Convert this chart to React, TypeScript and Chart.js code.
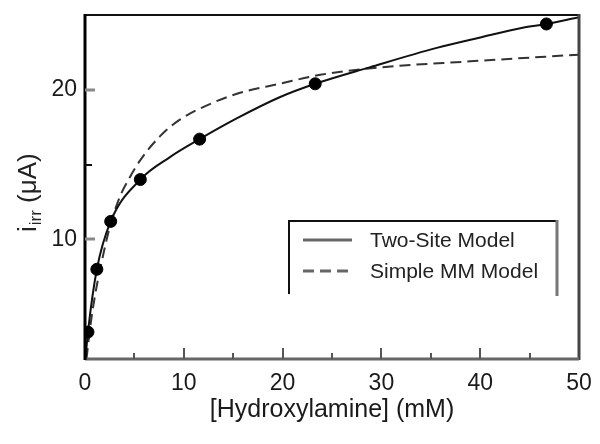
import React, { useEffect, useRef } from "react";
import { Chart, registerables } from "chart.js";

Chart.register(...registerables);

// Measured data points
const obsX = [0.3, 1.2, 2.6, 5.6, 11.6, 23.3, 46.7];
const obsY = [3.8, 8.0, 11.2, 14.0, 16.7, 20.4, 24.4];

// Two-Site Model curve (solid)
const twoSiteX = [0.05, 0.3, 1.2, 2.6, 5.6, 8.6, 11.6, 15.4, 19.7, 23.3, 28.8, 35.6, 40, 44.3, 46.7, 50];
const twoSiteY = [2.0, 3.8, 8.0, 11.2, 14.0, 15.5, 16.7, 18.1, 19.5, 20.4, 21.5, 22.8, 23.5, 24.15, 24.4, 24.85];

// Simple MM Model curve (dashed)
const mmX = [0.15, 0.5, 1.0, 1.5, 2.5, 3.5, 4.5, 5.6, 7.6, 9.6, 13.0, 15.7, 19.7, 23.8, 29.9, 39, 50];
const mmY = [2.0, 4.0, 6.2, 7.9, 10.8, 12.8, 14.1, 15.3, 16.9, 18.0, 19.15, 19.8, 20.4, 21.0, 21.5, 21.9, 22.35];

const legendLabels = ["Two-Site Model", "Simple MM Model"];

const xMajorTicks = [0, 10, 20, 30, 40, 50];
const xMinorTicks = [5, 15, 25, 35, 45];
const yMajorTicks = [10, 20];
const yMinorTicks = [15];

const xTitle = "[Hydroxylamine] (mM)";
const yTitleMain = "i";
const yTitleSub = "irr";
const yTitleUnit = " (μA)";

const toPts = (xs: number[], ys: number[]) => xs.map((x, i) => ({ x, y: ys[i] }));

const zeroPad = (s: any) => {
  s.paddingLeft = 0;
  s.paddingRight = 0;
  s.paddingTop = 0;
  s.paddingBottom = 0;
};

const decorPlugin = {
  id: "decor",
  afterDraw(chart: any) {
    const { ctx, chartArea } = chart;
    const xs = chart.scales.x;
    const ys = chart.scales.y;
    const L = chartArea.left, R = chartArea.right, T = chartArea.top, B = chartArea.bottom;
    ctx.save();
    // frame
    ctx.lineCap = "butt";
    ctx.strokeStyle = "#111";
    ctx.lineWidth = 2;
    ctx.beginPath(); ctx.moveTo(L - 1, T); ctx.lineTo(R + 1, T); ctx.stroke();
    ctx.strokeStyle = "#444";
    ctx.lineWidth = 3;
    ctx.beginPath(); ctx.moveTo(R, T - 1); ctx.lineTo(R, B + 1); ctx.stroke();
    ctx.strokeStyle = "#666";
    ctx.beginPath(); ctx.moveTo(L, B); ctx.lineTo(R, B); ctx.stroke();
    ctx.strokeStyle = "#000";
    ctx.beginPath(); ctx.moveTo(L, T - 1); ctx.lineTo(L, B + 1); ctx.stroke();

    // inward ticks
    ctx.strokeStyle = "#555";
    ctx.lineWidth = 2;
    xMajorTicks.forEach((v) => {
      if (v === xs.min || v === xs.max) return;
      const px = Math.round(xs.getPixelForValue(v));
      ctx.beginPath(); ctx.moveTo(px, B); ctx.lineTo(px, B - 11); ctx.stroke();
    });
    xMinorTicks.forEach((v) => {
      const px = Math.round(xs.getPixelForValue(v));
      ctx.beginPath(); ctx.moveTo(px, B); ctx.lineTo(px, B - 6); ctx.stroke();
    });
    ctx.strokeStyle = "#888";
    ctx.lineWidth = 3;
    yMajorTicks.forEach((v) => {
      const py = Math.round(ys.getPixelForValue(v));
      ctx.beginPath(); ctx.moveTo(L, py); ctx.lineTo(L + 10, py); ctx.stroke();
    });
    ctx.strokeStyle = "#111";
    ctx.lineWidth = 2;
    yMinorTicks.forEach((v) => {
      const py = Math.round(ys.getPixelForValue(v));
      ctx.beginPath(); ctx.moveTo(L, py); ctx.lineTo(L + 7, py); ctx.stroke();
    });

    // legend (box open at bottom)
    ctx.strokeStyle = "#111";
    ctx.lineWidth = 2;
    ctx.beginPath(); ctx.moveTo(289, 294); ctx.lineTo(289, 221); ctx.lineTo(557, 221); ctx.stroke();
    ctx.strokeStyle = "#777";
    ctx.lineWidth = 3;
    ctx.beginPath(); ctx.moveTo(557, 220); ctx.lineTo(557, 296); ctx.stroke();
    const ds = chart.data.datasets;
    const rows = [240, 271];
    legendLabels.forEach((lab, i) => {
      const y = rows[i];
      ctx.strokeStyle = "#666";
      ctx.lineWidth = 3;
      ctx.setLineDash(ds[i].borderDash || []);
      ctx.beginPath(); ctx.moveTo(303, y); ctx.lineTo(352, y); ctx.stroke();
      ctx.setLineDash([]);
      ctx.fillStyle = "#222";
      ctx.font = "21px 'Liberation Sans', Arial, sans-serif";
      ctx.textBaseline = "middle";
      ctx.textAlign = "left";
      ctx.fillText(lab, 370, y + 1);
    });

    // y-axis title with subscript
    ctx.translate(36, 232);
    ctx.rotate(-Math.PI / 2);
    ctx.fillStyle = "#222";
    ctx.textBaseline = "alphabetic";
    ctx.textAlign = "left";
    ctx.font = "26px 'Liberation Sans', Arial, sans-serif";
    ctx.fillText(yTitleMain, 0, 0);
    let w = ctx.measureText(yTitleMain).width;
    ctx.font = "17px 'Liberation Sans', Arial, sans-serif";
    ctx.fillText(yTitleSub, w + 1, 5);
    w += 1 + ctx.measureText(yTitleSub).width;
    ctx.font = "26px 'Liberation Sans', Arial, sans-serif";
    ctx.fillText(yTitleUnit, w, 0);
    ctx.restore();
  },
};

export default function App() {
  const ref = useRef<HTMLCanvasElement | null>(null);
  useEffect(() => {
    if (!ref.current) return;
    const tickFont = { family: "'Liberation Sans', Arial, sans-serif", size: 23 };
    const chart = new Chart(ref.current, {
      type: "scatter",
      data: {
        datasets: [
          {
            label: legendLabels[0],
            data: toPts(twoSiteX, twoSiteY),
            showLine: true,
            borderColor: "#111",
            borderWidth: 2,
            pointRadius: 0,
            cubicInterpolationMode: "monotone",
            order: 2,
          } as any,
          {
            label: legendLabels[1],
            data: toPts(mmX, mmY),
            showLine: true,
            borderColor: "#333",
            borderWidth: 2,
            borderDash: [11, 6],
            pointRadius: 0,
            cubicInterpolationMode: "monotone",
            order: 3,
          } as any,
          {
            label: "data",
            data: toPts(obsX, obsY),
            showLine: false,
            pointRadius: 6,
            pointBackgroundColor: "#000",
            pointBorderColor: "#000",
            order: 1,
          } as any,
        ],
      },
      options: {
        responsive: false,
        animation: false,
        layout: { padding: { top: 15, right: 21, left: 0, bottom: 0 } },
        plugins: { legend: { display: false }, tooltip: { enabled: false } },
        scales: {
          x: {
            type: "linear",
            min: 0,
            max: 50,
            afterFit: (s: any) => { s.height = 85; zeroPad(s); },
            afterBuildTicks: (s: any) => { s.ticks = xMajorTicks.map((v) => ({ value: v })); },
            grid: { display: false, drawTicks: false },
            border: { display: false },
            ticks: { font: tickFont, color: "#1a1a1a", padding: 11, maxRotation: 0 },
            title: {
              display: true,
              text: xTitle,
              color: "#1a1a1a",
              font: { family: "'Liberation Sans', Arial, sans-serif", size: 25 },
              padding: { top: 0, bottom: 19 },
            },
          },
          y: {
            type: "linear",
            min: 2,
            max: 25,
            afterFit: (s: any) => { s.width = 85; zeroPad(s); },
            afterBuildTicks: (s: any) => { s.ticks = yMajorTicks.map((v) => ({ value: v })); },
            grid: { display: false, drawTicks: false },
            border: { display: false },
            ticks: { font: tickFont, color: "#1a1a1a", padding: 8 },
          },
        },
      },
      plugins: [decorPlugin],
    });
    return () => chart.destroy();
  }, []);
  return (
    <div style={{ position: "absolute", left: 0, top: 0, width: 600, height: 444, background: "#fff" }}>
      <canvas ref={ref} width={600} height={444} style={{ display: "block" }} />
    </div>
  );
}
